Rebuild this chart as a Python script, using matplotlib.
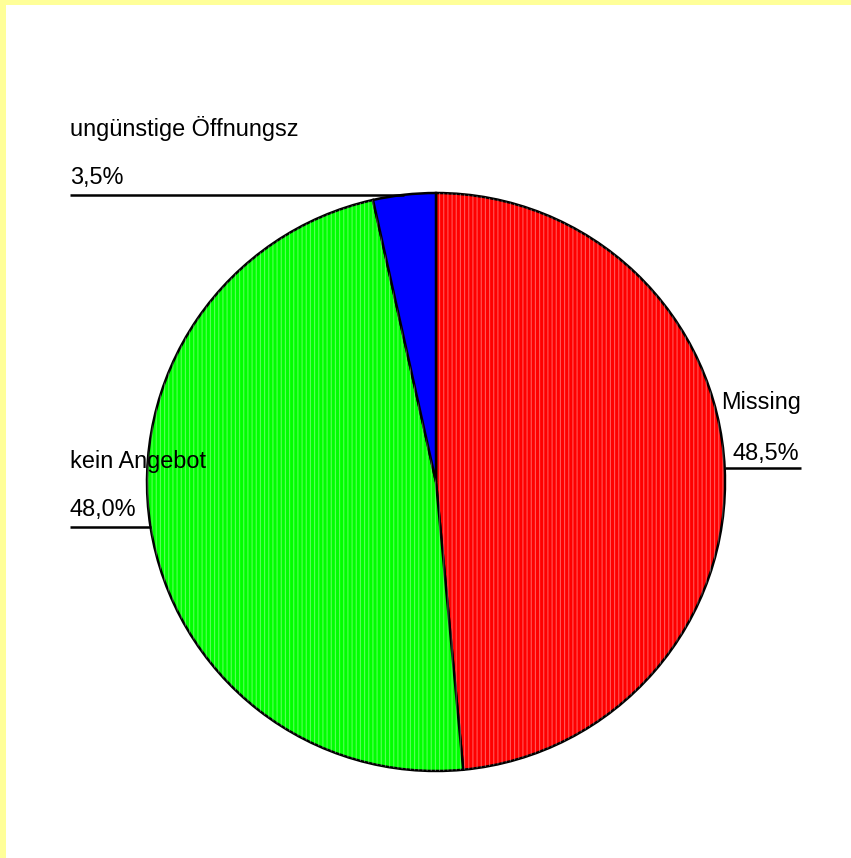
import numpy as np
import matplotlib
matplotlib.use('Agg')
import matplotlib.pyplot as plt
from matplotlib.patches import Rectangle

labels = ['Missing', 'kein Angebot', 'ungünstige Öffnungsz']
values = [48.5, 48.0, 3.5]
pct_text = ['48,5%', '48,0%', '3,5%']
colors = ['#FF0000', '#00FF00', '#0000FF']
stripe_alpha = [0.35, 0.35, 0.0]

W, H = 851, 858
cx, cy, r = 436, H - 482, 289

plt.rcParams['font.family'] = ['Liberation Sans', 'DejaVu Sans']
plt.rcParams['hatch.linewidth'] = 0.8

fig = plt.figure(figsize=(W / 100, H / 100), dpi=100)
ax = fig.add_axes([0, 0, 1, 1])

# yellow frame on top and left
ax.add_patch(Rectangle((0, H - 5), W, 5, color='#FFFF99', lw=0))
ax.add_patch(Rectangle((0, 0), 6, H, color='#FFFF99', lw=0))

ax.pie(values, colors=colors, startangle=90, counterclock=False,
       center=(cx, cy), radius=r, frame=True,
       wedgeprops=dict(edgecolor='black', linewidth=1.8))
# fine light stripes
wedges, _ = ax.pie(values, colors=['none'] * 3, startangle=90, counterclock=False,
                   center=(cx, cy), radius=r, frame=True,
                   wedgeprops=dict(linewidth=0, hatch='||||'))
for w, a in zip(wedges, stripe_alpha):
    w.set_edgecolor((1, 1, 1, a))
ax.set_xlim(0, W)
ax.set_ylim(0, H)
ax.axis('off')

cum = np.cumsum([0] + values)
for i, lab in enumerate(labels):
    mid = (cum[i] + cum[i + 1]) / 2 / 100 * 360
    ex = cx + r * np.sin(np.radians(mid))
    ey = cy + r * np.cos(np.radians(mid))
    if ex > cx:
        ax.plot([ex, 801], [ey, ey], color='black', lw=1.8, solid_capstyle='butt')
        ax.text(801, ey + 59, lab, ha='right', va='baseline', fontsize=16.9)
        ax.text(799, ey + 8, pct_text[i], ha='right', va='baseline', fontsize=16.9)
    else:
        ax.plot([70, ex], [ey, ey], color='black', lw=1.8, solid_capstyle='butt')
        ax.text(70, ey + 59, lab, ha='left', va='baseline', fontsize=16.9)
        ax.text(70, ey + 11, pct_text[i], ha='left', va='baseline', fontsize=16.9)

fig.savefig('out.png', dpi=100, facecolor='white')
